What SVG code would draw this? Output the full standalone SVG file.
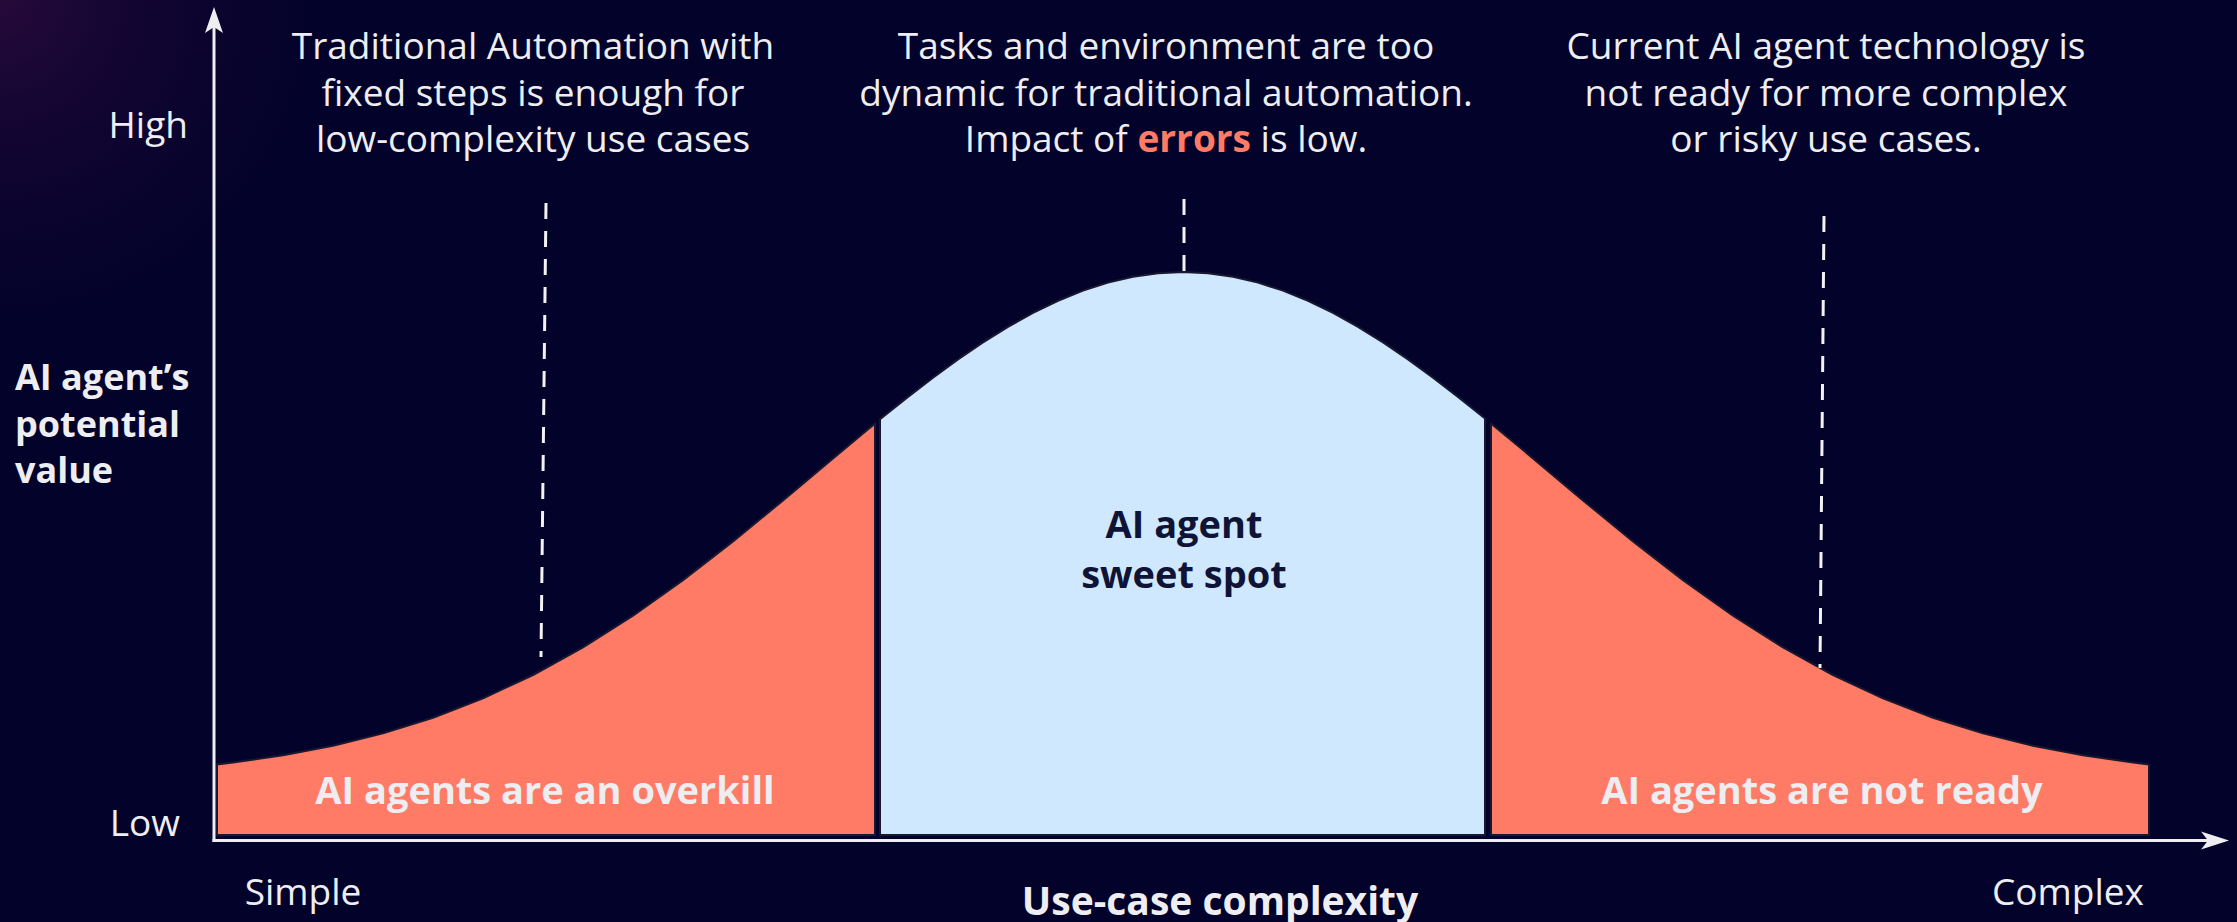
<svg xmlns="http://www.w3.org/2000/svg" width="2237" height="922" viewBox="0 0 2237 922">
<defs>
<radialGradient id="glow" cx="0" cy="0" r="420" gradientUnits="userSpaceOnUse">
<stop offset="0" stop-color="#2a0a3c" stop-opacity="0.9"/>
<stop offset="1" stop-color="#02022a" stop-opacity="0"/>
</radialGradient>
<style>
.t{font-family:"Open Sans","Liberation Sans",sans-serif;font-size:37px;fill:#eeeef2}
.b{font-family:"Open Sans","Liberation Sans",sans-serif;font-weight:bold;fill:#eeeef2}
.reg{stroke:#1a1830;stroke-width:2;stroke-linejoin:round}
.dash{stroke:#f2f2f2;stroke-width:3;stroke-dasharray:16 12;fill:none}
.axis{stroke:#eeeef2;stroke-width:3;fill:none}
</style>
</defs>
<rect width="2237" height="922" fill="#02022a"/>
<rect width="2237" height="922" fill="url(#glow)"/>

<g id="region-overkill">
<path class="reg" fill="#ff7b65" d="M217,835 L217,764.4 L233,762.5 L283,755.3 L333,745.7 L383,733.4 L433,717.7 L483,698.4 L533,675 L583,647.4 L633,615.7 L683,580.1 L733,541.4 L783,500.4 L833,458.4 L875,423.4 L875,835 Z"/>
<text class="b" x="545" y="804" font-size="38" text-anchor="middle">AI agents are an overkill</text>
</g>

<g id="region-sweet-spot">
<path class="reg" fill="#cfe8fd" d="M880,835 L880,419.3 L908,396.9 L933,377.7 L958,359.4 L983,342.4 L1008,326.9 L1033,312.9 L1058,300.8 L1083,290.6 L1108,282.6 L1133,276.7 L1158,273.2 L1183,272 L1208,273.2 L1233,276.7 L1258,282.6 L1283,290.6 L1308,300.8 L1333,312.9 L1358,326.9 L1383,342.4 L1408,359.4 L1433,377.7 L1458,396.9 L1485,418.5 L1485,835 Z"/>
<text class="b" x="1184" y="538" font-size="38" text-anchor="middle" style="fill:#0f1436">AI agent</text>
<text class="b" x="1184" y="588" font-size="38" text-anchor="middle" style="fill:#0f1436">sweet spot</text>
</g>

<g id="region-not-ready">
<path class="reg" fill="#ff7b65" d="M1491,835 L1491,423.4 L1533,458.4 L1583,500.4 L1633,541.4 L1683,580.1 L1733,615.7 L1783,647.4 L1833,675 L1883,698.4 L1933,717.7 L1983,733.4 L2033,745.7 L2083,755.3 L2133,762.5 L2149,764.4 L2149,835 Z"/>
<text class="b" x="1822" y="804" font-size="38" text-anchor="middle">AI agents are not ready</text>
</g>

<g id="axes">
<line class="axis" x1="214" y1="842" x2="214" y2="26"/>
<path d="M214,7 L223,33 L214,27 L205,33 Z" fill="#eeeef2"/>
<line class="axis" x1="212.5" y1="840.5" x2="2210" y2="840.5"/>
<path d="M2229,840.5 L2201,849.5 L2208,840.5 L2201,831.5 Z" fill="#eeeef2"/>
</g>

<g id="connectors">
<line class="dash" x1="546" y1="203" x2="541" y2="657"/>
<line class="dash" x1="1184" y1="199" x2="1184" y2="271"/>
<line class="dash" x1="1824" y1="216" x2="1820" y2="668"/>
</g>

<g id="note-traditional">
<text class="t" x="533" y="59" text-anchor="middle">Traditional Automation with</text>
<text class="t" x="533" y="106" text-anchor="middle">fixed steps is enough for</text>
<text class="t" x="533" y="152" text-anchor="middle">low-complexity use cases</text>
</g>

<g id="note-dynamic">
<text class="t" x="1166" y="59" text-anchor="middle">Tasks and environment are too</text>
<text class="t" x="1166" y="106" text-anchor="middle">dynamic for traditional automation.</text>
<text class="t" x="1166" y="152" text-anchor="middle">Impact of <tspan font-weight="bold" style="fill:#ff7b65">errors</tspan> is low.</text>
</g>

<g id="note-not-ready">
<text class="t" x="1826" y="59" text-anchor="middle">Current AI agent technology is</text>
<text class="t" x="1826" y="106" text-anchor="middle">not ready for more complex</text>
<text class="t" x="1826" y="152" text-anchor="middle">or risky use cases.</text>
</g>

<g id="y-axis-labels">
<text class="t" x="188" y="138" text-anchor="end" font-size="36">High</text>
<text class="t" x="180" y="836" text-anchor="end" font-size="36">Low</text>
<text class="b" x="15" y="390" font-size="36">AI agent’s</text>
<text class="b" x="15" y="437" font-size="36">potential</text>
<text class="b" x="15" y="483" font-size="36">value</text>
</g>

<g id="x-axis-labels">
<text class="t" x="303" y="905" text-anchor="middle">Simple</text>
<text class="t" x="2068" y="905" text-anchor="middle">Complex</text>
<text class="b" x="1220" y="915" font-size="39" text-anchor="middle">Use-case complexity</text>
</g>
</svg>
